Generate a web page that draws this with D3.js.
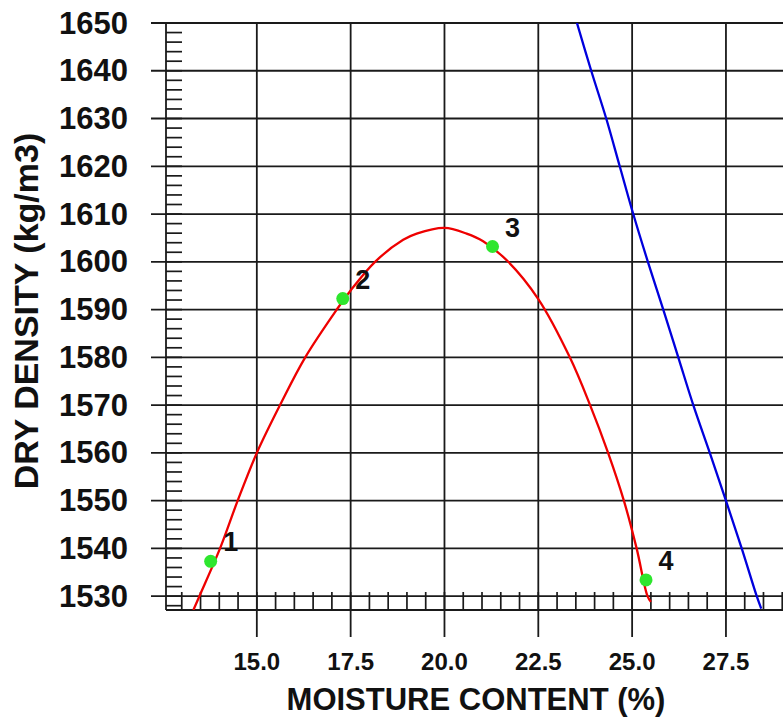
<!DOCTYPE html>
<html>
<head>
<meta charset="utf-8">
<script src="https://cdn.jsdelivr.net/npm/d3@7"></script>
<style>
  body { margin: 0; background: #fff; }
  svg { display: block; font-family: "Liberation Sans", Arial, sans-serif; font-weight: bold; }
</style>
</head>
<body>
<div id="chart"></div>
<script>
// test points
const pointLabels = ["1", "2", "3", "4"];
const pointMoisture = [13.77, 17.29, 21.28, 25.37];
const pointDensity = [1537.3, 1592.3, 1603.2, 1533.4];

// fitted compaction curve
const curveMoisture = [13.31, 13.47, 14.02, 14.49, 15.0, 15.65, 16.29, 17.13, 17.5, 18.15, 18.9, 19.26, 20.0, 20.59, 21.03, 21.7, 22.5, 23.34, 23.88, 24.36, 24.78, 25.12, 25.41, 25.5];
const curveDensity = [1527.1, 1530, 1540, 1550, 1560, 1570.5, 1580, 1590, 1594, 1600, 1604.6, 1605.9, 1607.1, 1605.9, 1604.3, 1600, 1592.2, 1580, 1570, 1560, 1550, 1540, 1530, 1528.8];

// zero air voids line
const zavMoisture = [23.53, 23.91, 24.31, 24.67, 25.03, 25.42, 25.83, 26.23, 26.63, 27.07, 27.5, 27.92, 28.32, 28.44];
const zavDensity = [1650, 1640, 1630, 1620, 1610, 1600, 1590, 1580, 1570, 1560, 1550, 1540, 1530, 1527.4];

const xMajor = [15.0, 17.5, 20.0, 22.5, 25.0, 27.5];
const yMajor = [1530, 1540, 1550, 1560, 1570, 1580, 1590, 1600, 1610, 1620, 1630, 1640, 1650];

const W = 783, H = 717;
const mLeft = 166, mTop = 23, mRight = 786, mBottom = 610;

const x = d3.scaleLinear().domain([12.58, 29.1]).range([mLeft, mRight]);
const y = d3.scaleLinear().domain([1527.1, 1650]).range([mBottom, mTop]);

const svg = d3.select("#chart").append("svg").attr("width", W).attr("height", H);

svg.append("clipPath").attr("id", "plotclip")
  .append("rect").attr("x", mLeft).attr("y", mTop).attr("width", mRight - mLeft).attr("height", mBottom - mTop);

// minor ticks
const xMinor = d3.range(13.0, 29.01, 0.5);
const yMinor = d3.range(1528, 1650, 2);

svg.append("g").selectAll("line").data(xMinor).join("line")
  .attr("x1", d => x(d)).attr("x2", d => x(d))
  .attr("y1", mBottom).attr("y2", mBottom - 18)
  .style("stroke", "#1a1a1a").style("stroke-width", 1.7);

svg.append("g").selectAll("line").data(yMinor).join("line")
  .attr("x1", mLeft).attr("x2", mLeft + 16)
  .attr("y1", d => y(d)).attr("y2", d => y(d))
  .style("stroke", "#1a1a1a").style("stroke-width", 1.7);

// major grid
svg.append("g").selectAll("line").data(yMajor).join("line")
  .attr("x1", mLeft - 15).attr("x2", W)
  .attr("y1", d => y(d)).attr("y2", d => y(d))
  .style("stroke", "#1a1a1a").style("stroke-width", 1.8);

svg.append("g").selectAll("line").data(xMajor).join("line")
  .attr("x1", d => x(d)).attr("x2", d => x(d))
  .attr("y1", mTop).attr("y2", mBottom + 27)
  .style("stroke", "#1a1a1a").style("stroke-width", 1.8);

// axis lines
svg.append("line").attr("x1", mLeft).attr("x2", mLeft).attr("y1", mTop).attr("y2", mBottom)
  .style("stroke", "#1a1a1a").style("stroke-width", 1.8);
svg.append("line").attr("x1", mLeft).attr("x2", W).attr("y1", mBottom).attr("y2", mBottom)
  .style("stroke", "#1a1a1a").style("stroke-width", 1.8);

// tick labels
svg.append("g").selectAll("text").data(yMajor).join("text")
  .attr("x", 128).attr("y", d => y(d))
  .attr("text-anchor", "end").attr("dominant-baseline", "central")
  .style("font-size", "31px").style("fill", "#111")
  .text(d => d);

svg.append("g").selectAll("text").data(xMajor).join("text")
  .attr("x", d => x(d)).attr("y", 670)
  .attr("text-anchor", "middle")
  .style("font-size", "24px").style("fill", "#111")
  .text(d => d.toFixed(1));

// axis titles
svg.append("text")
  .attr("x", 476).attr("y", 710)
  .attr("text-anchor", "middle")
  .style("font-size", "31px").style("fill", "#111")
  .text("MOISTURE CONTENT (%)");

svg.append("text")
  .attr("transform", "translate(38,311) rotate(-90)")
  .attr("text-anchor", "middle")
  .style("font-size", "34px").style("fill", "#111")
  .text("DRY DENSITY (kg/m3)");

const plot = svg.append("g").attr("clip-path", "url(#plotclip)");

const zavData = zavMoisture.map((m, i) => ({ m: m, d: zavDensity[i] }));
const curveData = curveMoisture.map((m, i) => ({ m: m, d: curveDensity[i] }));
const pts = pointMoisture.map((m, i) => ({ m: m, d: pointDensity[i], label: pointLabels[i] }));

const line = d3.line().x(d => x(d.m)).y(d => y(d.d)).curve(d3.curveCatmullRom);

plot.append("path").datum(zavData)
  .attr("d", line)
  .style("fill", "none").style("stroke", "#0000dd").style("stroke-width", 2.3);

plot.append("path").datum(curveData)
  .attr("d", line)
  .style("fill", "none").style("stroke", "#ee0000").style("stroke-width", 2.3);

plot.append("g").selectAll("circle").data(pts).join("circle")
  .attr("cx", d => x(d.m)).attr("cy", d => y(d.d)).attr("r", 6.5)
  .style("fill", "#2ee62e");

svg.append("g").selectAll("text").data(pts).join("text")
  .attr("x", d => x(d.m) + 20).attr("y", d => y(d.d) - 19)
  .attr("text-anchor", "middle").attr("dominant-baseline", "central")
  .style("font-size", "27px").style("fill", "#111")
  .text(d => d.label);
</script>
</body>
</html>
